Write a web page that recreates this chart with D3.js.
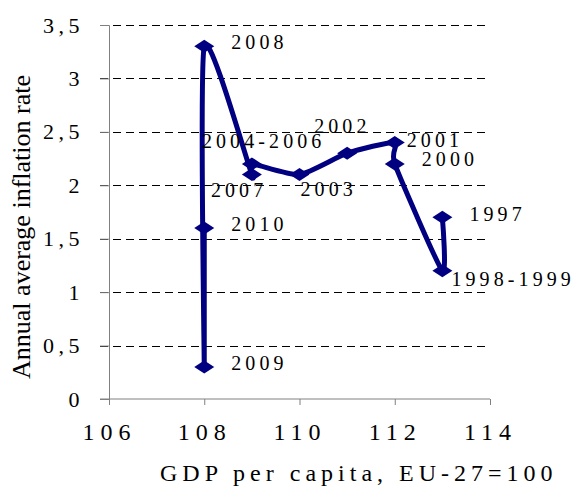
<!DOCTYPE html>
<html>
<head>
<meta charset="utf-8">
<script src="https://cdn.jsdelivr.net/npm/d3@7"></script>
<style>
  html, body { margin: 0; padding: 0; background: #fff; }
  svg { display: block; }
  text { font-family: "Liberation Serif", "Times New Roman", serif; fill: #000; }
</style>
</head>
<body>
<svg id="chart" width="576" height="486"></svg>
<script>
// ---- data ----
const years = ["1997", "1998-1999", "2000", "2001", "2002", "2003", "2004-2006", "2007", "2008", "2009", "2010"];
const gdp = [113, 113, 112, 112, 111, 110, 109, 109, 108, 108, 108];
const inflation = [1.7, 1.2, 2.2, 2.4, 2.3, 2.1, 2.2, 2.1, 3.3, 0.3, 1.6];
const xTicks = [106, 108, 110, 112, 114];
const yTicks = [0, 0.5, 1, 1.5, 2, 2.5, 3, 3.5];
const xTitle = "GDP per capita, EU-27=100";
const yTitle = "Annual average inflation rate";
// label offsets (pixels from marker)
const labelDx = [27, 9, 27, 12, -33, 1, -50, -41, 27, 27, 27];
const labelDy = [4, 15, 2, 4, -20, 21, -16, 22, 3, 3, 3];

const SERIF = "Liberation Serif, Times New Roman, serif";
const svg = d3.select("#chart");
const x = d3.scaleLinear().domain([106, 114]).range([109, 490]);
const y = d3.scaleLinear().domain([0, 3.5]).range([399, 25]);
const fmt = d => String(d).replace(".", ",");

// gridlines (dashed)
svg.append("g").selectAll("line").data(yTicks.filter(d => d > 0)).join("line")
  .attr("x1", 100).attr("x2", 490)
  .attr("y1", d => Math.round(y(d)) + 0.5).attr("y2", d => Math.round(y(d)) + 0.5)
  .attr("stroke", "#000").attr("stroke-width", 1)
  .attr("stroke-dasharray", "8,5");

// y axis
const yAxis = svg.append("g").attr("transform", `translate(${x(106)},0)`)
  .call(d3.axisLeft(y).tickValues(yTicks).tickFormat(fmt).tickSize(9).tickPadding(16));
yAxis.attr("font-family", SERIF);
yAxis.select(".domain").attr("stroke", "#808080");
yAxis.selectAll(".tick line").attr("stroke", "#808080");
yAxis.selectAll("text").attr("font-size", 22).attr("letter-spacing", 4.5)
  .attr("font-family", SERIF).attr("fill", "#000");

// x axis
const xAxis = svg.append("g").attr("transform", `translate(0,${y(0)})`)
  .call(d3.axisBottom(x).tickValues(xTicks).tickFormat(d => d).tickSize(6).tickPadding(18));
xAxis.attr("font-family", SERIF);
xAxis.select(".domain").attr("stroke", "#808080");
xAxis.selectAll(".tick line").attr("stroke", "#808080");
xAxis.selectAll("text").attr("font-size", 24).attr("letter-spacing", 6)
  .attr("font-family", SERIF).attr("fill", "#000").attr("dx", 0);
xAxis.select(".domain").attr("d", `M${x(106) - 9},0H${x(114)}`);

// axis titles
svg.append("text").attr("x", 160).attr("y", 481).attr("text-anchor", "start")
  .attr("font-family", SERIF)
  .attr("font-size", 24).attr("letter-spacing", 5).text(xTitle);
svg.append("text").attr("transform", "translate(30,227) rotate(-90)")
  .attr("font-family", SERIF)
  .attr("text-anchor", "middle").attr("font-size", 26).text(yTitle);

// series line
const pts = years.map((yr, i) => [x(gdp[i]), y(inflation[i])]);
svg.append("path")
  .attr("d", d3.line().curve(d3.curveCardinal.tension(0.4))(pts))
  .attr("fill", "none").attr("stroke", "#000080").attr("stroke-width", 5)
  .attr("stroke-linejoin", "round");

// markers (diamonds)
const hw = 10, hh = 6.5;
svg.append("g").selectAll("path").data(pts).join("path")
  .attr("d", d => `M${d[0]},${d[1] - hh}L${d[0] + hw},${d[1]}L${d[0]},${d[1] + hh}L${d[0] - hw},${d[1]}Z`)
  .attr("fill", "#000080");

// data labels
svg.append("g").selectAll("text").data(years).join("text")
  .attr("x", (d, i) => pts[i][0] + labelDx[i])
  .attr("y", (d, i) => pts[i][1] + labelDy[i])
  .attr("font-family", SERIF)
  .attr("font-size", 20).attr("letter-spacing", 4.1)
  .text(d => d);
</script>
</body>
</html>
